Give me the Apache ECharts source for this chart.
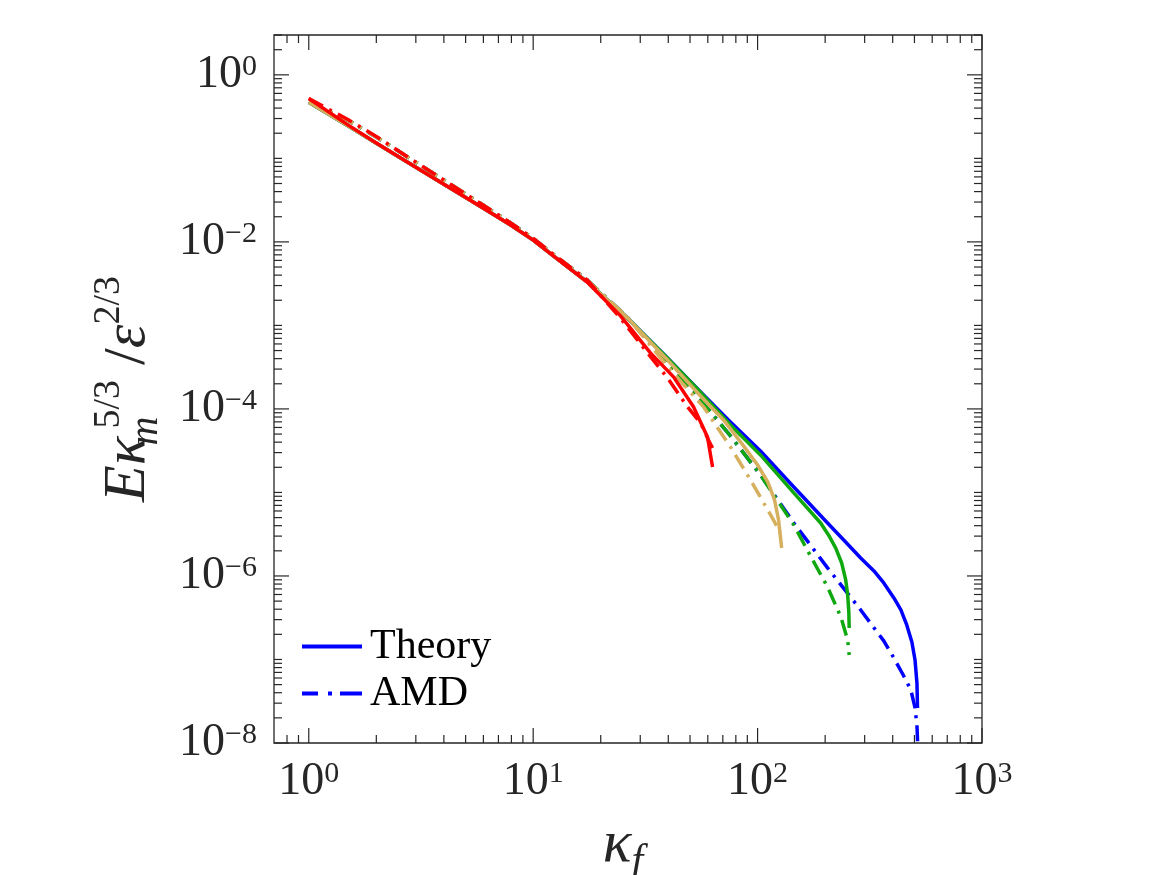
<!DOCTYPE html>
<html>
<head>
<meta charset="utf-8">
<script src="https://cdn.jsdelivr.net/npm/echarts@6.0.0/dist/echarts.min.js"></script>
<style>
  html, body { margin: 0; background: #fff; }
  #chart { width: 1167px; height: 875px; }
</style>
</head>
<body>
<div id="chart"></div>
<script>
// 讀圖估計的資料 (kappa_f, E kappa^{5/3} / eps^{2/3})
const kTheory512 = [1, 1.5, 2, 3, 4, 6, 8, 10, 12.3, 17.4, 26.3, 39.7, 55.7, 75.7, 103, 145, 205, 242, 288, 330, 365, 405, 435, 462, 487, 503, 513, 516];
const eTheory512 = [0.47, 0.244, 0.152, 0.0785, 0.049, 0.0252, 0.0157, 0.0105, 6.8e-3, 3.32e-3, 1.23e-3, 4.08e-4, 1.6e-4, 6.99e-5, 3.14e-5, 1.16e-5, 4.31e-6, 2.7e-6, 1.64e-6, 1.15e-6, 8.25e-7, 5.45e-7, 3.92e-7, 2.59e-7, 1.62e-7, 9.86e-8, 5.23e-8, 2.62e-8];
const kAmd512 = [1, 1.5, 2, 3, 4, 6, 8, 10, 12.3, 17.4, 26.3, 39.7, 55.7, 75.7, 103, 145, 205, 288, 365, 405, 448, 482, 502, 513, 518];
const eAmd512 = [0.47, 0.285, 0.18, 0.09, 0.055, 0.0274, 0.0166, 0.011, 7.1e-3, 3.5e-3, 1.25e-3, 3.66e-4, 1.28e-4, 4.75e-5, 1.62e-5, 4.31e-6, 1.25e-6, 3.92e-7, 1.67e-7, 1.04e-7, 6.34e-8, 4.31e-8, 2.7e-8, 1.64e-8, 8.3e-9];

const kTheory256 = [1, 1.5, 2, 3, 4, 6, 8, 10, 12.3, 17.4, 26.3, 39.7, 55.7, 75.7, 103, 145, 191, 207, 223, 237, 247, 252, 255, 256];
const eTheory256 = [0.47, 0.244, 0.152, 0.0785, 0.049, 0.0252, 0.0157, 0.0105, 6.8e-3, 3.32e-3, 1.23e-3, 4.05e-4, 1.58e-4, 6.43e-5, 2.81e-5, 9.86e-6, 4.31e-6, 3.1e-6, 2.16e-6, 1.43e-6, 8.96e-7, 5.92e-7, 3.71e-7, 2.38e-7];
const kAmd256 = [1, 1.5, 2, 3, 4, 6, 8, 10, 12.3, 17.4, 26.3, 39.7, 55.7, 75.7, 103, 145, 173, 205, 235, 252, 256];
const eAmd256 = [0.47, 0.285, 0.18, 0.09, 0.055, 0.0274, 0.0166, 0.011, 7.1e-3, 3.5e-3, 1.25e-3, 3.66e-4, 1.28e-4, 4.75e-5, 1.62e-5, 4.08e-6, 1.69e-6, 7.38e-7, 3.23e-7, 1.71e-7, 1.13e-7];

const kTheory128 = [1, 1.5, 2, 3, 4, 6, 8, 10, 12.3, 17.4, 26.3, 39.7, 55.7, 70.5, 86.6, 100, 111, 119, 124, 128];
const eTheory128 = [0.47, 0.244, 0.152, 0.0785, 0.049, 0.0252, 0.0157, 0.0105, 6.8e-3, 3.32e-3, 1.23e-3, 3.86e-4, 1.43e-4, 7.38e-5, 3.61e-5, 2.13e-5, 1.34e-5, 8.13e-6, 4.69e-6, 2.16e-6];
const kAmd128 = [1, 1.5, 2, 3, 4, 6, 8, 10, 12.3, 17.4, 26.3, 40.9, 57.4, 75.7, 93, 111, 119, 126];
const eAmd128 = [0.47, 0.285, 0.18, 0.09, 0.055, 0.0274, 0.0166, 0.011, 7.1e-3, 3.5e-3, 1.25e-3, 2.93e-4, 1.06e-4, 3.51e-5, 1.41e-5, 6.17e-6, 4.43e-6, 3.27e-6];

const kTheory64 = [1, 1.5, 2, 3, 4, 6, 8, 10, 12.3, 17.4, 24.5, 33.3, 42.2, 51.8, 59.8, 63];
const eTheory64 = [0.52, 0.25, 0.153, 0.0785, 0.049, 0.0252, 0.0157, 0.0105, 6.8e-3, 3.3e-3, 1.3e-3, 4.69e-4, 2.42e-4, 1.06e-4, 4.62e-5, 2.02e-5];
const kAmd64 = [1, 1.5, 2, 3, 4, 6, 8, 10, 12.3, 17.4, 24.5, 32.3, 39.7, 48.7, 55.7, 60.4, 63];
const eAmd64 = [0.52, 0.29, 0.183, 0.09, 0.055, 0.0274, 0.0166, 0.011, 7.1e-3, 3.5e-3, 1.22e-3, 4.69e-4, 2.35e-4, 1.06e-4, 6.79e-5, 4.25e-5, 3.41e-5];

// 刻度
const xRange = [0.7, 1000];
const yRange = [1e-8, 3];
const xLabelExps = [0, 1, 2, 3];
const yLabelExps = [0, -2, -4, -6, -8];
const xMajorTicks = [1, 10, 100, 1000];
const xMinorTicks = [0.8, 0.9, 2, 3, 4, 5, 6, 7, 8, 9, 20, 30, 40, 50, 60, 70, 80, 90, 200, 300, 400, 500, 600, 700, 800, 900];
const yMajorTicks = [1e-8, 1e-6, 1e-4, 1e-2, 1];
const mantissas = [2, 3, 4, 5, 6, 7, 8, 9];
const yDecades = [1e-8, 1e-7, 1e-6, 1e-5, 1e-4, 1e-3, 1e-2, 1e-1];
const yMinorTicks = [1e-7, 1e-5, 1e-3, 1e-1, 2, 3];
yDecades.forEach(d => mantissas.forEach(m => yMinorTicks.push(+(m * d).toPrecision(3))));

const serif = '"Liberation Serif", "DejaVu Serif", serif';
const axisColor = '#262626';
const colBlue = '#0000ff';
const colGreen = '#0fa80f';
const colGold = '#d6b05e';
const colRed = '#ff0000';
const dashDot = [16, 7, 3, 7];

// 圖例用的線段圖示 (實線 / 點劃線)
const iconSolid = 'path://M0,0H60V4H0Z';
const iconDashDot = 'path://M0,0H16V4H0Z M26,0H30V4H26Z M38,0H60V4H38Z';

const zip = (ks, es) => ks.map((k, i) => [k, es[i]]);
const sup = n => (n < 0 ? '\u2212' + (-n) : String(n));

const lineSeries = (name, ks, es, color, dashed) => ({
  name,
  type: 'line',
  data: zip(ks, es),
  showSymbol: false,
  symbol: 'none',
  silent: true,
  lineStyle: { color, width: 3.5, type: dashed ? dashDot : 'solid', cap: 'butt', join: 'round' },
  itemStyle: { color },
  z: 2,
});

const tickSeries = (values, len, dir) => ({
  type: 'custom',
  silent: true,
  clip: false,
  z: 5,
  data: values.map(v => (dir === 'x' ? [v, 1] : [1, v])),
  renderItem: (params, api) => {
    const style = { stroke: axisColor, lineWidth: 1.2 };
    if (dir === 'x') {
      const v = api.value(0);
      const a = api.coord([v, yRange[0]]);
      const b = api.coord([v, yRange[1]]);
      return { type: 'group', children: [
        { type: 'line', shape: { x1: a[0], y1: a[1], x2: a[0], y2: a[1] - len }, style },
        { type: 'line', shape: { x1: b[0], y1: b[1], x2: b[0], y2: b[1] + len }, style },
      ] };
    }
    const v = api.value(1);
    const a = api.coord([xRange[0], v]);
    const b = api.coord([xRange[1], v]);
    return { type: 'group', children: [
      { type: 'line', shape: { x1: a[0], y1: a[1], x2: a[0] + len, y2: a[1] }, style },
      { type: 'line', shape: { x1: b[0], y1: b[1], x2: b[0] - len, y2: b[1] }, style },
    ] };
  },
});

const labelRich = {
  b: { fontFamily: serif, fontSize: 46, lineHeight: 46, color: axisColor },
  s: { fontFamily: serif, fontSize: 30, lineHeight: 14, verticalAlign: 'top', color: axisColor },
};

const nameRich = {
  i: { fontFamily: serif, fontSize: 60, fontStyle: 'italic', lineHeight: 76, color: axisColor },
  n: { fontFamily: serif, fontSize: 60, lineHeight: 76, color: axisColor },
  sub: { fontFamily: serif, fontSize: 42, fontStyle: 'italic', lineHeight: 44, verticalAlign: 'bottom', color: axisColor },
  subs: { fontFamily: serif, fontSize: 40, fontStyle: 'italic', lineHeight: 44, verticalAlign: 'bottom', width: 5, align: 'left', padding: [0, 0, 0, 3], color: axisColor },
  sup: { fontFamily: serif, fontSize: 38, lineHeight: 40, verticalAlign: 'top', color: axisColor },
};

const expLabel = exps => v => {
  const lg = Math.log10(v);
  const e = Math.round(lg);
  if (Math.abs(lg - e) > 1e-6 || !exps.includes(e)) return '';
  return '{b|10}{s|' + sup(e) + '}';
};

const chart = echarts.init(document.getElementById('chart'), null, { renderer: 'canvas' });

chart.setOption({
  backgroundColor: '#fff',
  animation: false,
  grid: {
    left: 274, top: 35, width: 708, height: 708,
    outerBoundsMode: 'none',
    containLabel: false,
    show: true, borderColor: axisColor, borderWidth: 1.3, backgroundColor: 'transparent',
  },
  legend: {
    data: [
      { name: 'Theory', icon: iconSolid },
      { name: 'AMD', icon: iconDashDot },
    ],
    orient: 'vertical',
    left: 297,
    top: 618,
    itemWidth: 60,
    itemHeight: 4,
    itemGap: 0,
    selectedMode: false,
    textStyle: { fontFamily: serif, fontSize: 42, color: '#000', lineHeight: 47, padding: [0, 0, 0, 3] },
  },
  xAxis: {
    type: 'log',
    logBase: 10,
    min: xRange[0],
    max: xRange[1],
    axisLine: { show: false },
    axisTick: { show: false },
    splitLine: { show: false },
    axisLabel: { margin: 16, formatter: expLabel(xLabelExps), rich: labelRich, showMinLabel: true, showMaxLabel: true },
    name: '{i|κ}{sub|f}',
    nameLocation: 'middle',
    nameGap: 64,
    nameTextStyle: { rich: nameRich, padding: [0, 10, 0, 0] },
  },
  yAxis: {
    type: 'log',
    logBase: 10,
    min: yRange[0],
    max: yRange[1],
    axisLine: { show: false },
    axisTick: { show: false },
    splitLine: { show: false },
    axisLabel: { margin: 17, formatter: expLabel(yLabelExps), rich: labelRich, showMinLabel: true, showMaxLabel: true },
    name: '{i|Eκ}{subs|m}{sup|5/3}{n| /}{i|ε}{sup|2/3}',
    nameLocation: 'middle',
    nameGap: 108,
    nameTextStyle: { rich: nameRich },
  },
  series: [
    lineSeries('Theory', kTheory512, eTheory512, colBlue, false),
    lineSeries('AMD', kAmd512, eAmd512, colBlue, true),
    lineSeries('Theory 256', kTheory256, eTheory256, colGreen, false),
    lineSeries('AMD 256', kAmd256, eAmd256, colGreen, true),
    lineSeries('Theory 128', kTheory128, eTheory128, colGold, false),
    lineSeries('AMD 128', kAmd128, eAmd128, colGold, true),
    lineSeries('Theory 64', kTheory64, eTheory64, colRed, false),
    lineSeries('AMD 64', kAmd64, eAmd64, colRed, true),
    tickSeries(xMajorTicks, 15, 'x'),
    tickSeries(xMinorTicks, 8, 'x'),
    tickSeries(yMajorTicks, 15, 'y'),
    tickSeries(yMinorTicks, 8, 'y'),
  ],
});

window.addEventListener('resize', () => chart.resize());
</script>
</body>
</html>
